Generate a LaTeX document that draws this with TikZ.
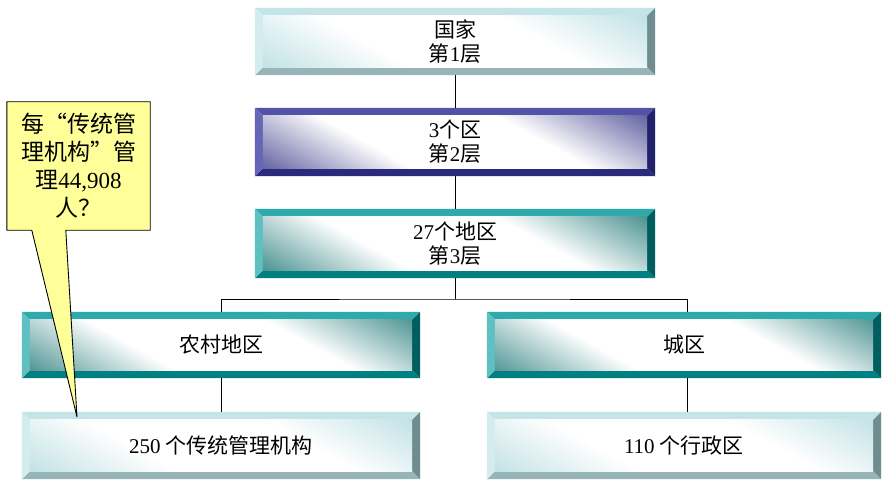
\documentclass[tikz,border=0pt]{standalone}
\usepackage{fontspec}
\setmainfont{Liberation Serif}
\newfontfamily\cjk{Noto Sans CJK SC}
\newfontfamily\cjkq[RawFeature=+fwid]{Noto Sans CJK SC}
\usetikzlibrary{calc,backgrounds}
\newcommand\zh[1]{{\cjk #1}}
\definecolor{lTop}{HTML}{C4E4E8}
\definecolor{lLeft}{HTML}{D4ECEE}
\definecolor{lRight}{HTML}{6F8D8F}
\definecolor{lBot}{HTML}{97B5B7}
\definecolor{lFace}{HTML}{BEE0E4}
\definecolor{pTop}{HTML}{5252A8}
\definecolor{pLeft}{HTML}{6666B6}
\definecolor{pRight}{HTML}{22226A}
\definecolor{pBot}{HTML}{2A2A7C}
\definecolor{pFace}{HTML}{5C5C9E}
\definecolor{tTop}{HTML}{2EAAAA}
\definecolor{tLeft}{HTML}{5EC0C0}
\definecolor{tRight}{HTML}{005E5E}
\definecolor{tBot}{HTML}{008080}
\definecolor{tFace}{HTML}{458E8E}
\definecolor{callfill}{HTML}{FFFF99}
\pgfdeclarehorizontalshading{lShade}{100bp}{color(0bp)=(lFace); color(25bp)=(lFace); color(41bp)=(white); color(59bp)=(white); color(75bp)=(lFace); color(100bp)=(lFace)}
\pgfdeclarehorizontalshading{pShade}{100bp}{color(0bp)=(pFace); color(25bp)=(pFace); color(41bp)=(white); color(59bp)=(white); color(75bp)=(pFace); color(100bp)=(pFace)}
\pgfdeclarehorizontalshading{tShade}{100bp}{color(0bp)=(tFace); color(25bp)=(tFace); color(41bp)=(white); color(59bp)=(white); color(75bp)=(tFace); color(100bp)=(tFace)}
\newcommand\drawbevel[2]{%
 \fill[#2Top] (#1.north west) -- (#1.north east) -- ($(#1.north east)+(-8,-8)$) -- ($(#1.north west)+(8,-8)$) -- cycle;
 \fill[#2Bot] (#1.south west) -- (#1.south east) -- ($(#1.south east)+(-8,8)$) -- ($(#1.south west)+(8,8)$) -- cycle;
 \fill[#2Left] (#1.north west) -- (#1.south west) -- ($(#1.south west)+(8,8)$) -- ($(#1.north west)+(8,-8)$) -- cycle;
 \fill[#2Right] (#1.north east) -- (#1.south east) -- ($(#1.south east)+(-8,8)$) -- ($(#1.north east)+(-8,-8)$) -- cycle;
 \begin{scope}
  \clip ($(#1.north west)+(8,-8)$) rectangle ($(#1.south east)+(-8,8)$);
  \begin{scope}[transform canvas={shift={(#1.center)}, rotate=61}]
   \shade[shading=#2Shade] (-120,-200) rectangle (120,200);
  \end{scope}
 \end{scope}
}
\begin{document}
\begin{tikzpicture}[x=1pt,y=1pt,
  boxnode/.style={minimum width=400pt, minimum height=67pt, inner sep=0pt, align=center, font=\fontsize{21}{24}\selectfont},
  conn/.style={draw=black, line width=0.8pt},
  callnode/.style={minimum width=143pt, minimum height=128pt, inner sep=0pt, align=center, font=\fontsize{23}{28}\selectfont}]
\useasboundingbox (0,0) rectangle (882,480);
\node[boxnode] (B1) at (455,438.5) {\zh{国家}\\\zh{第}1\zh{层}};
\node[boxnode, minimum height=68pt] (B2) at (455,338) {3\zh{个区}\\\zh{第}2\zh{层}};
\node[boxnode, minimum height=69pt] (B3) at (455,236.5) {27\zh{个地区}\\\zh{第}3\zh{层}};
\node[boxnode, minimum width=398pt, minimum height=66pt] (B4) at (221,135) {\zh{农村地区}};
\node[boxnode, minimum width=394pt, minimum height=66pt] (B5) at (684,135) {\zh{城区}};
\node[boxnode, minimum width=398pt] (B6) at (221,34.5) {250 \zh{个传统管理机构}};
\node[boxnode, minimum width=394pt] (B7) at (684,34.5) {110 \zh{个行政区}};
\node[callnode] (call) at (78.5,314) {\zh{每}{\cjkq “}\zh{传统管}\\\zh{理机构}{\cjkq ”}\zh{管}\\\zh{理}44,908\\\zh{人？}};
\coordinate (tip) at (77,63);
\coordinate (j) at (455,181);
\draw[conn] (B1) -- (B2);
\draw[conn] (B2) -- (B3);
\draw[conn] (B3.south) -- (j);
\draw[conn] (B4.north) |- (j) -| ([xshift=3pt]B5.north);
\draw[conn] (B4) -- (B6);
\draw[conn] ([xshift=3pt]B5.south) -- ([xshift=3pt]B7.north);
\begin{scope}[on background layer]
 \fill[white] (0,0) rectangle (882,480);
 \drawbevel{B1}{l}
 \drawbevel{B2}{p}
 \drawbevel{B3}{t}
 \drawbevel{B4}{t}
 \drawbevel{B5}{t}
 \drawbevel{B6}{l}
 \drawbevel{B7}{l}
 \draw[fill=callfill, draw=black, line width=0.9pt, line join=miter]
   (call.north west) -- (call.north east) -- (call.south east)
   -- ($(call.south west)+(59,0)$) -- (tip) -- ($(call.south west)+(25,0)$)
   -- (call.south west) -- cycle;
\end{scope}
\end{tikzpicture}
\end{document}
